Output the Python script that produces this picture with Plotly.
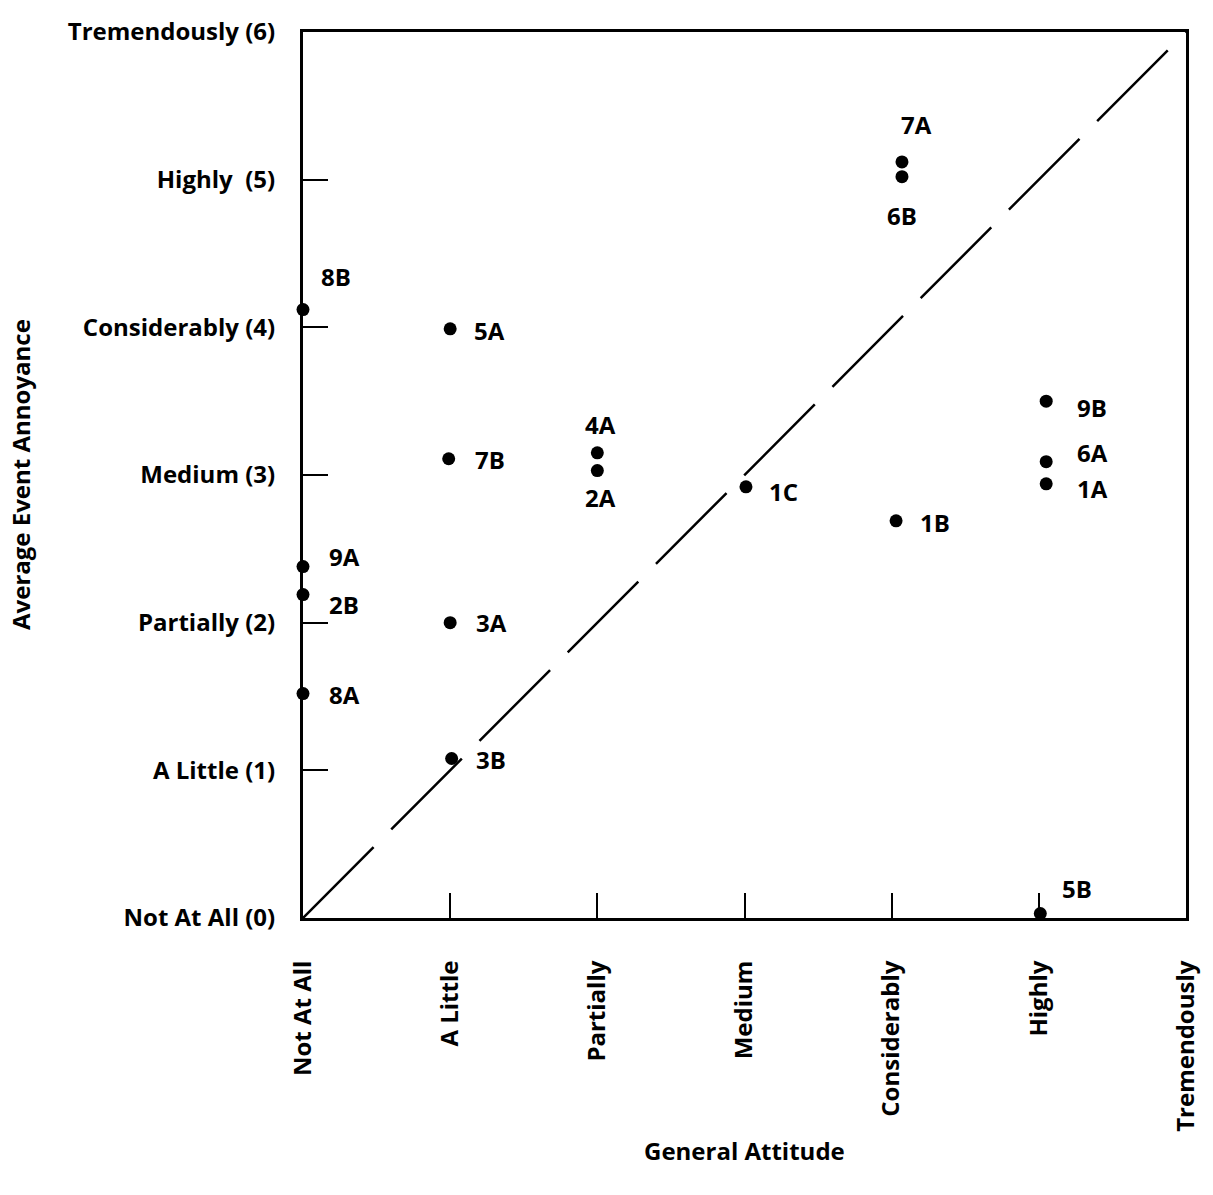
import plotly.graph_objects as go

# Site ratings: general attitude (x) vs. average event annoyance (y)
sites = ["8B", "5A", "9A", "2B", "8A", "7B", "3A", "3B", "4A", "2A",
         "1C", "7A", "6B", "1B", "9B", "6A", "1A", "5B"]
attitude = [0.0, 1.0, 0.0, 0.0, 0.0, 0.99, 1.0, 1.01, 2.0, 2.0,
            3.01, 4.07, 4.07, 4.03, 5.05, 5.05, 5.05, 5.01]
annoyance = [4.12, 3.99, 2.38, 2.19, 1.52, 3.11, 2.00, 1.08, 3.15, 3.03,
             2.92, 5.12, 5.02, 2.69, 3.50, 3.09, 2.94, 0.03]

x_tick_vals = [0, 1, 2, 3, 4, 5, 6]
x_tick_text = ["Not At All", "A Little", "Partially", "Medium",
               "Considerably", "Highly", "Tremendously"]
y_tick_vals = [0, 1, 2, 3, 4, 5, 6]
y_tick_text = ["Not At All (0)", "A Little (1)", "Partially (2)", "Medium (3)",
               "Considerably (4)", "Highly  (5)", "Tremendously (6)"]

x_title = "General Attitude"
y_title = "Average Event Annoyance"

# Equal-rating reference line
diag_x = [0, 6]
diag_y = [0, 6]

# Label placement around each marker: (x shift, y shift, anchor) in pixels
label_pos = {
    "8B": (16, 33, "left"), "5A": (22, -2, "left"), "9A": (24, 10, "left"),
    "2B": (24, -10, "left"), "8A": (24, -1, "left"), "7B": (24, -1, "left"),
    "3A": (24, 0, "left"), "3B": (22, -1, "left"), "4A": (3, 28, "center"),
    "2A": (3, -27, "center"), "1C": (21, -5, "left"), "7A": (15, 37, "center"),
    "6B": (0, -39, "center"), "1B": (22, -2, "left"), "9B": (29, -6, "left"),
    "6A": (29, 9, "left"), "1A": (29, -5, "left"), "5B": (20, 25, "left"),
}

FONT = dict(family="Open Sans", size=24, color="black", weight="bold")

fig = go.Figure()
fig.add_trace(go.Scatter(
    x=diag_x, y=diag_y, mode="lines",
    line=dict(color="black", width=2.5, dash="100px,25px"),
    hoverinfo="skip", showlegend=False,
))
fig.add_trace(go.Scatter(
    x=attitude, y=annoyance, mode="markers", text=sites,
    marker=dict(color="black", size=13),
    cliponaxis=False, showlegend=False,
))

for s, xv, yv in zip(sites, attitude, annoyance):
    dx, dy, anc = label_pos[s]
    fig.add_annotation(
        x=xv, y=yv, text=s, showarrow=False, xanchor=anc, yanchor="middle",
        xshift=dx, yshift=dy, font=FONT,
    )

# Axis titles placed at fixed pixel offsets from the plot frame
fig.add_annotation(
    xref="paper", yref="paper", x=0.5, y=0, yshift=-232,
    text=x_title, showarrow=False, xanchor="center", yanchor="middle", font=FONT,
)
fig.add_annotation(
    xref="paper", yref="paper", x=0, y=0.5, xshift=-283, textangle=-90,
    text=y_title, showarrow=False, xanchor="center", yanchor="middle", font=FONT,
)

axis_common = dict(
    range=[0, 6], showgrid=False, zeroline=False,
    showline=True, linecolor="black", linewidth=3, mirror=True,
    ticks="inside", ticklen=25, tickwidth=2, tickcolor="black",
    tickfont=FONT,
)

fig.update_xaxes(
    **axis_common, tickvals=x_tick_vals, ticktext=x_tick_text,
    tickangle=-90, ticklabelstandoff=30,
)
fig.update_yaxes(
    **axis_common, tickvals=y_tick_vals, ticktext=y_tick_text,
    ticklabelstandoff=20,
)

fig.update_layout(
    width=1213, height=1195,
    margin=dict(l=303, r=23, t=32, b=277),
    plot_bgcolor="white", paper_bgcolor="white",
    font=FONT,
)

fig.write_html("out.html")
